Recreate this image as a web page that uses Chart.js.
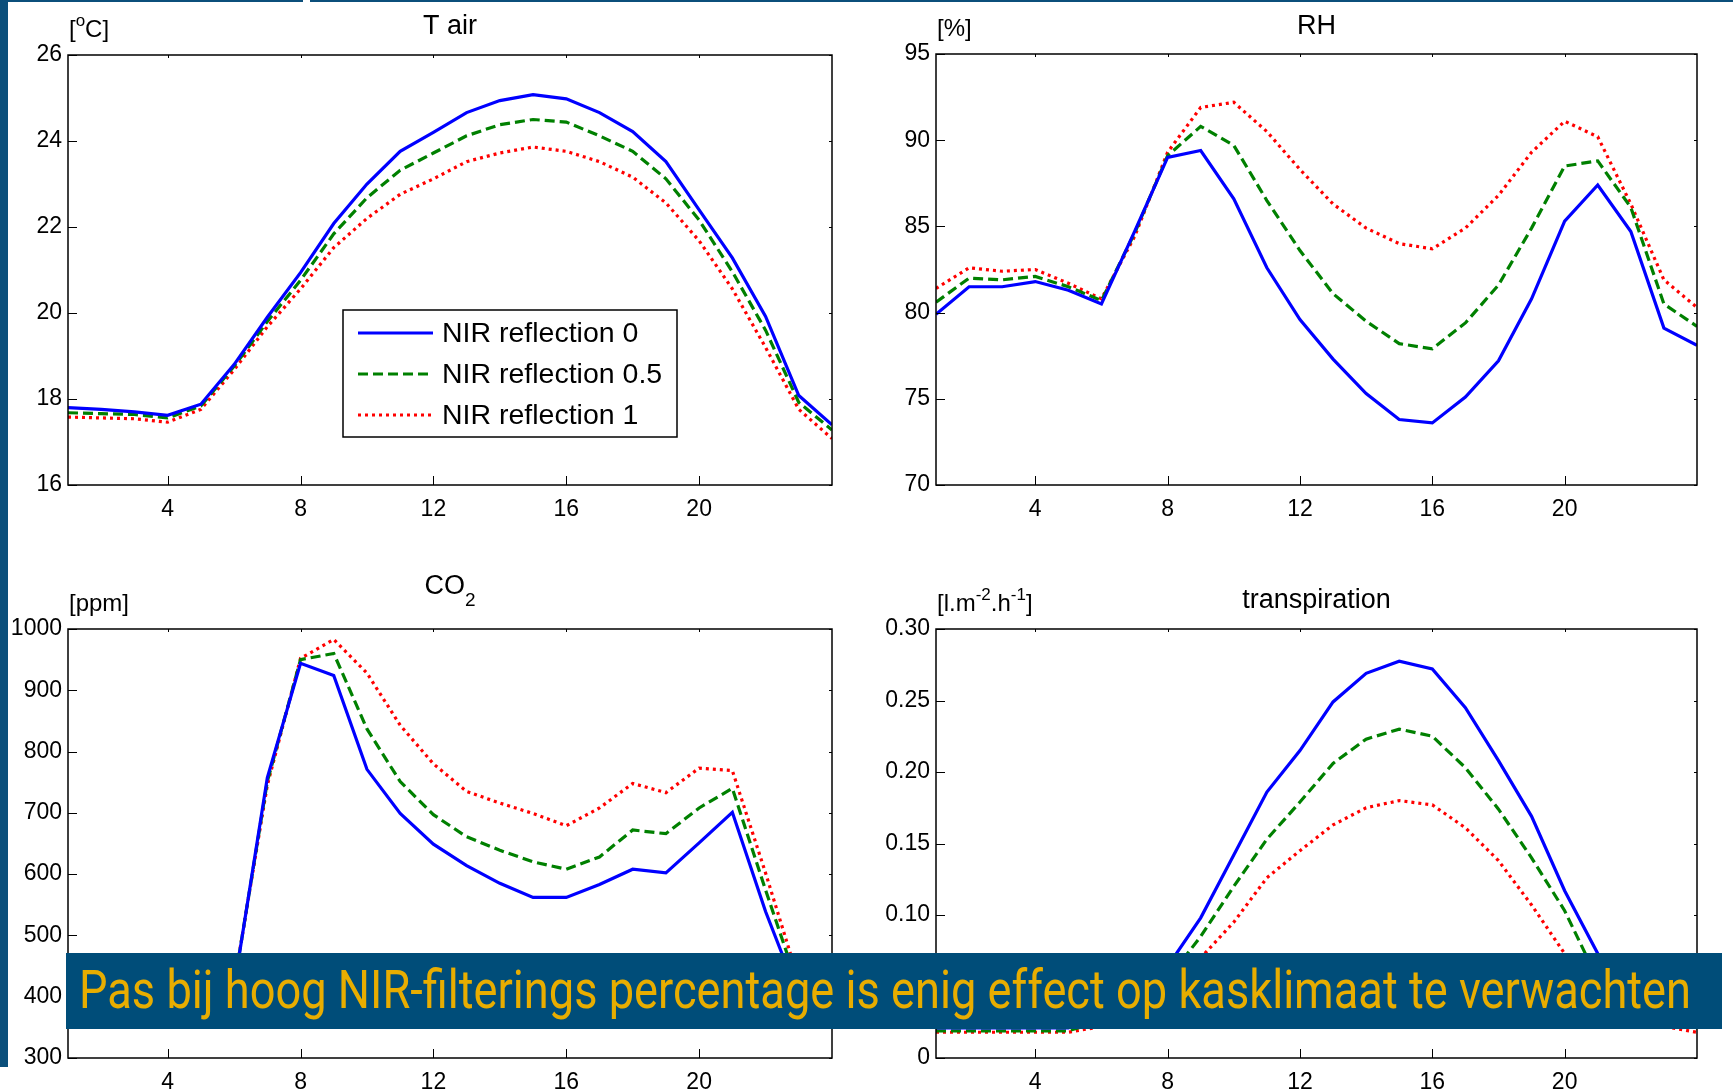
<!DOCTYPE html>
<html>
<head>
<meta charset="utf-8">
<script src="https://cdn.jsdelivr.net/npm/chart.js@4.4.1/dist/chart.umd.min.js"></script>
<style>
html, body { margin: 0; padding: 0; background: #fff; width: 1733px; height: 1090px; overflow: hidden; position: relative; }
canvas { position: absolute; }
#leftBar { position: absolute; left: 0; top: 0; width: 8px; height: 1067px; background: #0b4f7b; z-index: 2; }
.topLine { position: absolute; top: 0; height: 2px; background: #0b4f7b; z-index: 2; }
#banner { position: absolute; left: 66px; top: 953px; width: 1656px; height: 76px; background: #004d79; overflow: hidden; z-index: 3; }
#banner span { position: absolute; left: 13px; top: 10px; color: #e8ad00; font-family: Roboto, sans-serif; font-size: 54px; line-height: 54px; white-space: nowrap; transform-origin: 0 0; }
</style>
</head>
<body>
<div id="leftBar"></div>
<div class="topLine" style="left:0;width:303px"></div>
<div class="topLine" style="left:310px;width:1423px"></div>

<canvas id="tair" width="866" height="545" style="left:0;top:0"></canvas>
<canvas id="rh" width="867" height="545" style="left:866px;top:0"></canvas>
<canvas id="co2" width="866" height="545" style="left:0;top:545px"></canvas>
<canvas id="transp" width="867" height="545" style="left:866px;top:545px"></canvas>

<div id="banner"><span id="bannerText">Pas bij hoog NIR-filterings percentage is enig effect op kasklimaat te verwachten</span></div>

<script>
const hours = [1, 2, 3, 4, 5, 6, 7, 8, 9, 10, 11, 12, 13, 14, 15, 16, 17, 18, 19, 20, 21, 22, 23, 24];
const xTicks = [4, 8, 12, 16, 20];
const seriesNames = ['NIR reflection 0', 'NIR reflection 0.5', 'NIR reflection 1'];

// T air [oC]
const tairNir0 = [17.8, 17.76, 17.7, 17.62, 17.88, 18.8, 19.9, 20.94, 22.08, 23.0, 23.76, 24.2, 24.66, 24.94, 25.08, 24.98, 24.66, 24.22, 23.52, 22.4, 21.28, 19.92, 18.08, 17.4];
const tairNir05 = [17.68, 17.66, 17.64, 17.56, 17.84, 18.76, 19.8, 20.76, 21.84, 22.68, 23.32, 23.72, 24.12, 24.38, 24.5, 24.44, 24.12, 23.76, 23.12, 22.16, 20.96, 19.6, 17.92, 17.28];
const tairNir1 = [17.58, 17.56, 17.54, 17.46, 17.76, 18.68, 19.68, 20.56, 21.52, 22.2, 22.76, 23.12, 23.52, 23.72, 23.86, 23.76, 23.52, 23.16, 22.56, 21.68, 20.56, 19.2, 17.76, 17.08];
const tairTicks = [16, 18, 20, 22, 24, 26];

// RH [%]
const rhNir0 = [79.9, 81.5, 81.5, 81.8, 81.3, 80.5, 84.7, 89.0, 89.4, 86.6, 82.6, 79.6, 77.3, 75.3, 73.8, 73.6, 75.1, 77.2, 80.8, 85.3, 87.4, 84.7, 79.1, 78.1];
const rhNir05 = [80.6, 82.0, 81.9, 82.1, 81.5, 80.7, 84.6, 89.1, 90.8, 89.7, 86.5, 83.6, 81.1, 79.5, 78.2, 77.9, 79.4, 81.6, 84.9, 88.5, 88.8, 86.1, 80.5, 79.2];
const rhNir1 = [81.4, 82.6, 82.4, 82.5, 81.7, 80.8, 84.4, 89.3, 91.9, 92.2, 90.5, 88.3, 86.3, 84.9, 84.0, 83.7, 84.9, 86.8, 89.3, 91.1, 90.2, 86.3, 81.9, 80.3];
const rhTicks = [70, 75, 80, 85, 90, 95];

// CO2 [ppm]
const co2Nir0 = [420, 418, 415, 412, 410, 415, 757, 944, 924, 771, 699, 649, 614, 585, 562, 562, 583, 608, 602, 651, 701, 539, 400, 395];
const co2Nir05 = [421, 419, 416, 413, 411, 418, 751, 950, 960, 837, 751, 697, 661, 639, 620, 608, 628, 672, 666, 708, 740, 574, 414, 405];
const co2Nir1 = [422, 420, 417, 414, 412, 420, 745, 952, 983, 928, 843, 780, 735, 716, 699, 679, 708, 748, 733, 773, 769, 602, 426, 412];
const co2Ticks = [300, 400, 500, 600, 700, 800, 900, 1000];

// transpiration [l.m-2.h-1]
const trNir0 = [0.021, 0.021, 0.021, 0.021, 0.021, 0.030, 0.045, 0.064, 0.098, 0.142, 0.186, 0.215, 0.249, 0.269, 0.2775, 0.272, 0.245, 0.208, 0.169, 0.117, 0.073, 0.045, 0.028, 0.024];
const trNir05 = [0.019, 0.019, 0.019, 0.019, 0.019, 0.026, 0.038, 0.055, 0.085, 0.120, 0.153, 0.179, 0.206, 0.223, 0.230, 0.225, 0.203, 0.174, 0.140, 0.103, 0.055, 0.038, 0.025, 0.021];
const trNir1 = [0.018, 0.018, 0.018, 0.018, 0.018, 0.022, 0.032, 0.048, 0.070, 0.095, 0.126, 0.145, 0.163, 0.175, 0.180, 0.177, 0.161, 0.138, 0.107, 0.073, 0.045, 0.030, 0.022, 0.018];
const trTicks = [0, 0.05, 0.10, 0.15, 0.20, 0.25, 0.30];

const FAM = '"Liberation Sans", Arial, sans-serif';
Chart.defaults.font.family = FAM;
Chart.defaults.color = '#000';

const lineStyles = [
    { borderColor: '#0000ff', borderDash: [] },
    { borderColor: '#008000', borderDash: [10, 5] },
    { borderColor: '#ff0000', borderDash: [3, 4] }
];

function drawRich(ctx, x, y, parts, size, align) {
    const fontFor = k => (k === 'n' ? size : Math.round(size * 0.7)) + 'px ' + FAM;
    let w = 0;
    parts.forEach(([t, k]) => { ctx.font = fontFor(k); w += ctx.measureText(t).width; });
    let cx = align === 'center' ? x - w / 2 : x;
    ctx.textAlign = 'left';
    ctx.textBaseline = 'alphabetic';
    parts.forEach(([t, k]) => {
        ctx.font = fontFor(k);
        const dy = k === 'sup' ? -size * 0.45 : (k === 'sub' ? size * 0.45 : 0);
        ctx.fillText(t, cx, y + dy);
        cx += ctx.measureText(t).width;
    });
}

function drawLegend(chart, box) {
    const ctx = chart.ctx;
    ctx.fillStyle = '#fff';
    ctx.fillRect(box.x, box.y, box.w, box.h);
    ctx.strokeStyle = '#000';
    ctx.lineWidth = 1.5;
    ctx.strokeRect(box.x, box.y, box.w, box.h);
    chart.data.datasets.forEach((ds, i) => {
        const cy = box.y + 23 + i * 41;
        ctx.strokeStyle = ds.borderColor;
        ctx.lineWidth = 3;
        ctx.setLineDash(ds.borderDash);
        ctx.beginPath();
        ctx.moveTo(box.x + 15, cy);
        ctx.lineTo(box.x + 90, cy);
        ctx.stroke();
        ctx.setLineDash([]);
        ctx.fillStyle = '#000';
        ctx.font = '28.5px ' + FAM;
        ctx.textAlign = 'left';
        ctx.textBaseline = 'middle';
        ctx.fillText(ds.label, box.x + 99, cy + 1);
    });
}

const framePlugin = {
    id: 'frame',
    afterDraw(chart, args, o) {
        const ctx = chart.ctx, a = chart.chartArea;
        const xs = chart.scales.x, ys = chart.scales.y;
        ctx.save();
        ctx.strokeStyle = '#000';
        ctx.lineWidth = 1.5;
        ctx.strokeRect(a.left, a.top, a.right - a.left, a.bottom - a.top);
        ctx.lineWidth = 1;
        ctx.beginPath();
        xs.ticks.forEach(t => {
            const px = Math.round(xs.getPixelForValue(t.value)) + 0.5;
            ctx.moveTo(px, a.bottom); ctx.lineTo(px, a.bottom - 9);
            ctx.moveTo(px, a.top); ctx.lineTo(px, a.top + 3);
        });
        ys.ticks.forEach(t => {
            const py = Math.round(ys.getPixelForValue(t.value)) + 0.5;
            ctx.moveTo(a.left, py); ctx.lineTo(a.left + 9, py);
            ctx.moveTo(a.right, py); ctx.lineTo(a.right - 3, py);
        });
        ctx.stroke();
        ctx.fillStyle = '#000';
        drawRich(ctx, (a.left + a.right) / 2, a.top - o.titleLift, o.title, 27, 'center');
        drawRich(ctx, a.left + 1, a.top - 18, o.unit, 24, 'left');
        if (o.legend) drawLegend(chart, o.legend);
        ctx.restore();
    }
};

function makePanel(id, series, yTicks, p) {
    const canvas = document.getElementById(id);
    const H = canvas.height;
    return new Chart(canvas, {
        type: 'line',
        data: {
            datasets: series.map((vals, i) => ({
                label: seriesNames[i],
                data: hours.map((h, j) => ({ x: h, y: vals[j] })),
                borderColor: lineStyles[i].borderColor,
                borderDash: lineStyles[i].borderDash,
                borderWidth: 3.2,
                pointRadius: 0,
                tension: 0,
                fill: false
            }))
        },
        options: {
            responsive: false,
            animation: false,
            layout: { padding: { top: p.top, right: p.right, left: 0, bottom: 0 } },
            plugins: {
                legend: { display: false },
                title: { display: false },
                tooltip: { enabled: false },
                frame: p.frame
            },
            scales: {
                x: {
                    type: 'linear', min: 1, max: 24,
                    afterBuildTicks: s => { s.ticks = xTicks.map(v => ({ value: v })); },
                    afterFit: s => { s.height = H - p.bottom; },
                    grid: { display: false, drawTicks: false },
                    border: { display: false },
                    ticks: { padding: 11, maxRotation: 0, font: { size: 23 } }
                },
                y: {
                    min: yTicks[0], max: yTicks[yTicks.length - 1],
                    afterBuildTicks: s => { s.ticks = yTicks.map(v => ({ value: v })); },
                    afterFit: s => { s.width = p.left; },
                    grid: { display: false, drawTicks: false },
                    border: { display: false },
                    ticks: { padding: 6, font: { size: 23 }, callback: p.fmt || (v => String(v)) }
                }
            }
        },
        plugins: [framePlugin]
    });
}

makePanel('tair', [tairNir0, tairNir05, tairNir1], tairTicks, {
    left: 68, right: 34, top: 55, bottom: 485,
    frame: {
        title: [['T air', 'n']], titleLift: 21,
        unit: [['[', 'n'], ['o', 'sup'], ['C]', 'n']],
        legend: { x: 343, y: 310, w: 334, h: 127 }
    }
});

makePanel('rh', [rhNir0, rhNir05, rhNir1], rhTicks, {
    left: 70, right: 36, top: 54, bottom: 485,
    frame: { title: [['RH', 'n']], titleLift: 20, unit: [['[%]', 'n']] }
});

makePanel('co2', [co2Nir0, co2Nir05, co2Nir1], co2Ticks, {
    left: 68, right: 34, top: 84, bottom: 513,
    frame: { title: [['CO', 'n'], ['2', 'sub']], titleLift: 35, unit: [['[ppm]', 'n']] }
});

makePanel('transp', [trNir0, trNir05, trNir1], trTicks, {
    left: 70, right: 36, top: 84, bottom: 513,
    fmt: v => (v === 0 ? '0' : v.toFixed(2)),
    frame: {
        title: [['transpiration', 'n']], titleLift: 21,
        unit: [['[l.m', 'n'], ['-2', 'sup'], ['.h', 'n'], ['-1', 'sup'], [']', 'n']]
    }
});

// squeeze the banner sentence to the width it has on the slide
const bannerText = document.getElementById('bannerText');
const bw = bannerText.getBoundingClientRect().width;
bannerText.style.transform = 'scaleX(' + (1612 / bw) + ')';
</script>
</body>
</html>
